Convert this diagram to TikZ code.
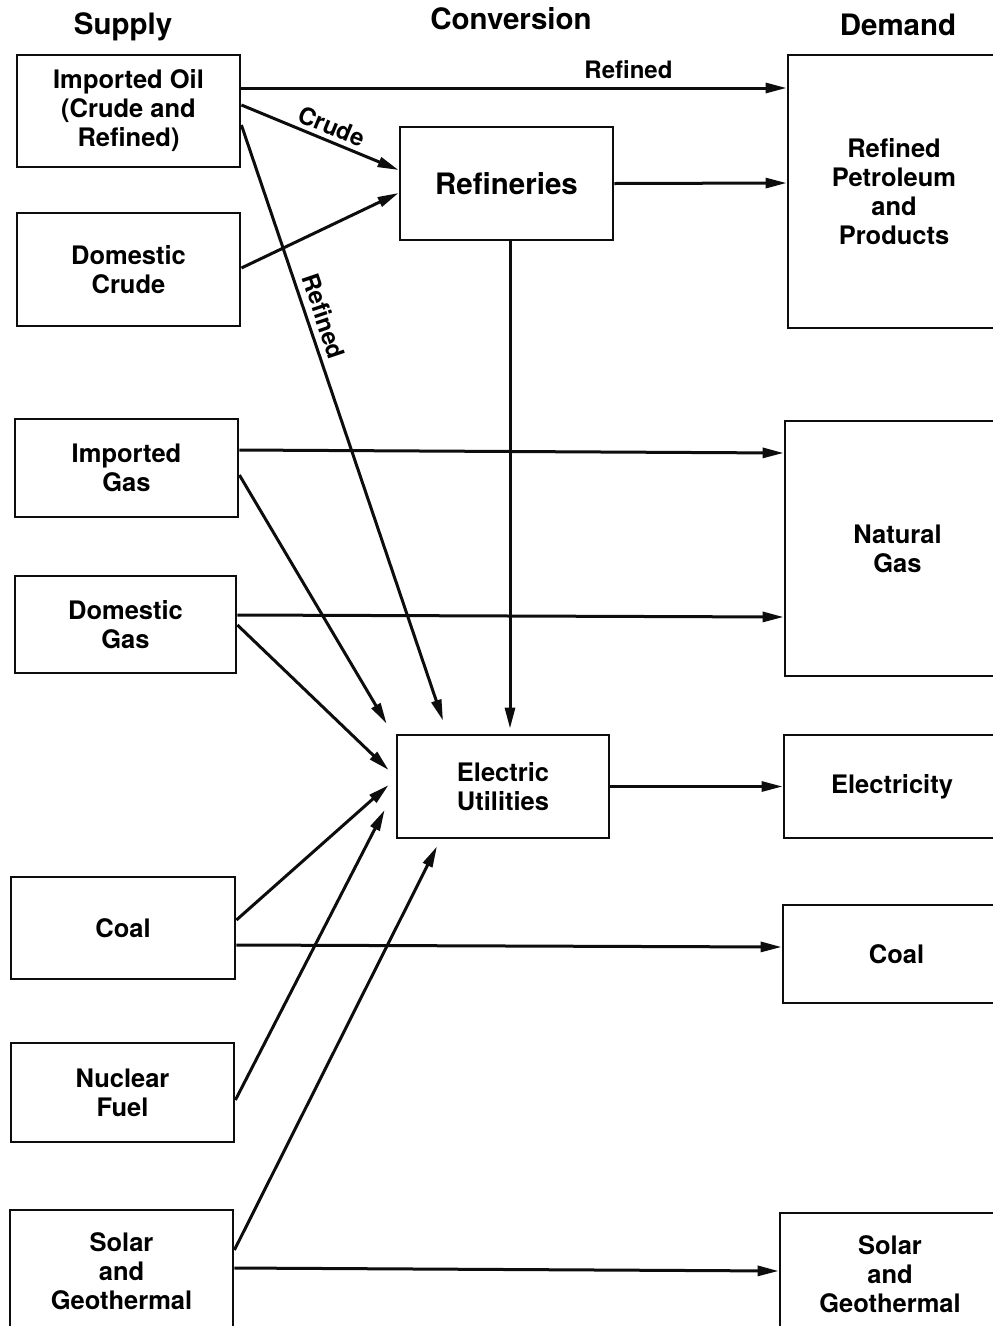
\documentclass[tikz,border=0pt]{standalone}
\usepackage{fontspec}
\setmainfont{TeX Gyre Heros}
\usetikzlibrary{arrows.meta}
\definecolor{FlowInk}{gray}{0.05}

\begin{document}
\begin{tikzpicture}[x=1pt,y=-1pt,
  unit/.style={draw=FlowInk,line width=2.8pt,align=center,inner sep=0pt,font=\fontsize{25.5}{29}\selectfont\bfseries},
  flow/.style={-{Triangle[length=21pt,width=10pt]},line width=3pt,draw=FlowInk},
  head/.style={font=\fontsize{29.5}{34}\selectfont\bfseries},
  tag/.style={font=\fontsize{24}{28}\selectfont\bfseries}]
  \useasboundingbox (0,0) rectangle (993,1326);
  % column heads
  \node[head] (hsupply) at (123,27) {Supply};
  \node[head] (hconv) at (511,19) {Conversion};
  \node[head] (hdemand) at (898,25) {Demand};
  % supply side
  \node[unit,minimum width=223pt,minimum height=112pt] (oil) at (128.5,111) {Imported Oil\\(Crude and\\Refined)};
  \node[unit,minimum width=223pt,minimum height=113pt] (dcrude) at (128.5,269.5) {Domestic\\Crude};
  \node[unit,minimum width=223pt,minimum height=98pt] (igas) at (126.5,468) {Imported\\Gas};
  \node[unit,minimum width=221pt,minimum height=97pt] (dgas) at (125.5,624.5) {Domestic\\Gas};
  \node[unit,minimum width=224pt,minimum height=102pt] (scoal) at (123,928) {Coal};
  \node[unit,minimum width=223pt,minimum height=99pt] (nuclear) at (122.5,1092.5) {Nuclear\\Fuel};
  \node[unit,minimum width=223pt,minimum height=122pt] (ssolar) at (121.5,1271) {Solar\\and\\Geothermal};
  % conversion
  \node[unit,minimum width=213pt,minimum height=113pt,font=\fontsize{29.5}{34}\selectfont\bfseries] (refin) at (506.5,183.5) {Refineries};
  \node[unit,minimum width=212pt,minimum height=103pt] (utility) at (503,786.5) {Electric\\Utilities};
  % demand side
  \node[unit,minimum width=212pt,minimum height=273pt] (petrol) at (894,191.5) {Refined\\Petroleum\\and\\Products};
  \node[unit,minimum width=225pt,minimum height=255pt] (ngas) at (897.5,548.5) {Natural\\Gas};
  \node[unit,minimum width=216pt,minimum height=103pt] (elec) at (892,786.5) {Electricity};
  \node[unit,minimum width=227pt,minimum height=98pt] (dcoal) at (896.5,954) {Coal};
  \node[unit,minimum width=220pt,minimum height=122pt] (dsolar) at (890,1274) {Solar\\and\\Geothermal};
  % oil flows
  \draw[flow] ([yshift=23pt]oil.east) -- node[tag,above=4pt,pos=0.71]{Refined} ([yshift=103.5pt]petrol.west);
  \draw[flow] ([yshift=6pt]oil.east) -- node[tag,sloped,above=1pt,pos=0.54]{Crude} ([yshift=13.5pt]refin.west);
  \draw[flow] ([yshift=1.5pt]dcrude.east) -- ([yshift=-9.5pt]refin.west);
  \draw[flow] ([yshift=-14pt]oil.east) -- node[tag,sloped,above=3pt,pos=0.33]{Refined} ([xshift=-60pt,yshift=13pt]utility.north);
  \draw[flow] (refin.east) -- ([yshift=8.5pt]petrol.west);
  \draw[flow] ([xshift=3.5pt]refin.south) -- ([xshift=7pt,yshift=5pt]utility.north);
  % gas flows
  \draw[flow] ([yshift=18pt]igas.east) -- ([yshift=95.5pt]ngas.west);
  \draw[flow] ([yshift=-7pt]igas.east) -- ([xshift=-9pt,yshift=10pt]utility.north west);
  \draw[flow] ([yshift=9.5pt]dgas.east) -- ([yshift=-68.5pt]ngas.west);
  \draw[flow] ([yshift=-0.5pt]dgas.east) -- ([xshift=-7pt,yshift=16.5pt]utility.west);
  % electricity, coal, nuclear, solar
  \draw[flow] (utility.east) -- (elec.west);
  \draw[flow] ([yshift=8pt]scoal.east) -- ([xshift=-7pt,yshift=1.5pt]utility.west);
  \draw[flow] ([yshift=-17pt]scoal.east) -- ([yshift=7pt]dcoal.west);
  \draw[flow] ([yshift=-7.5pt]nuclear.east) -- ([xshift=-11pt,yshift=-23.5pt]utility.west);
  \draw[flow] ([yshift=21pt]ssolar.east) -- ([xshift=-66pt,yshift=-7pt]utility.south);
  \draw[flow] ([yshift=3pt]ssolar.east) -- ([yshift=3pt]dsolar.west);
\end{tikzpicture}
\end{document}
